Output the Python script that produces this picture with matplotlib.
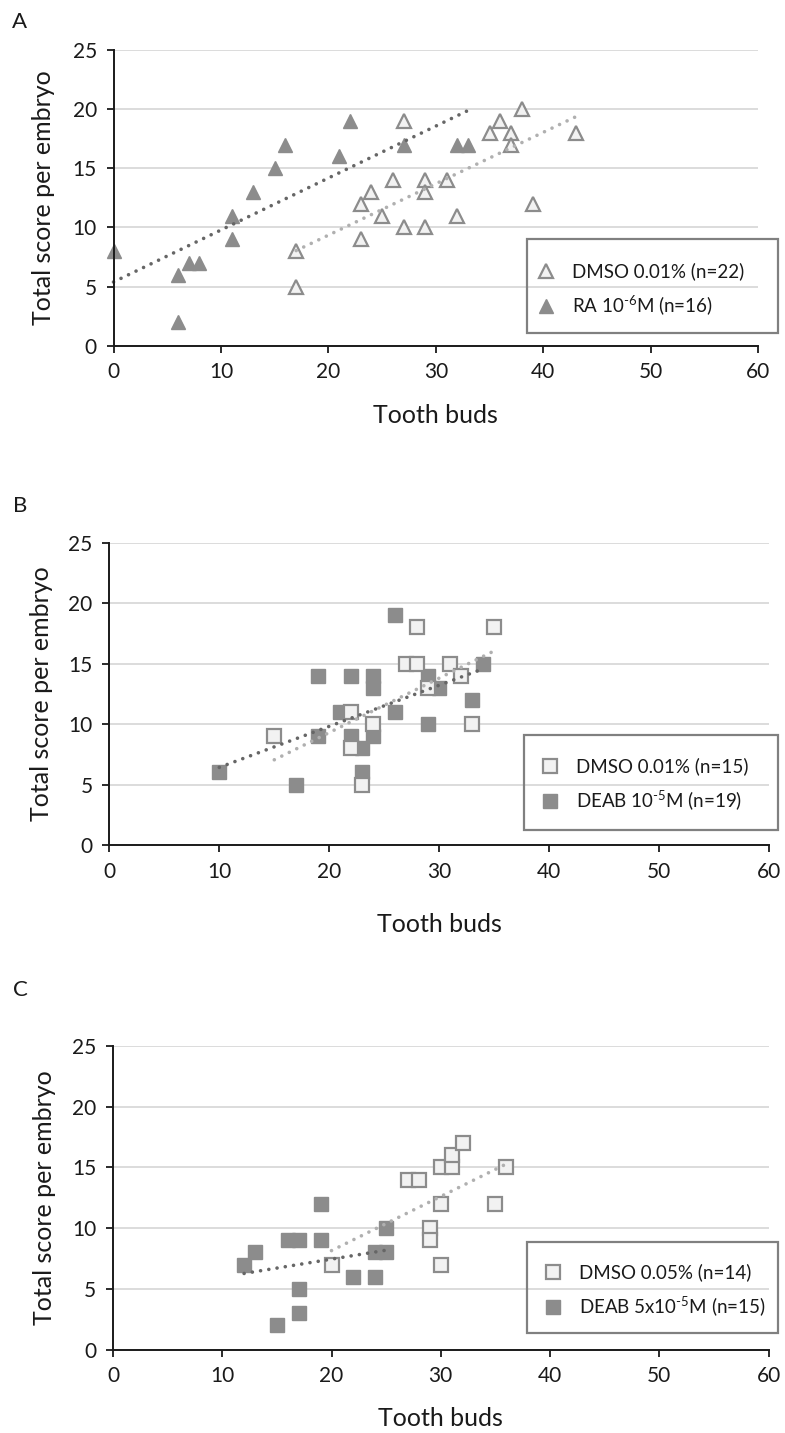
import numpy as np
import matplotlib
matplotlib.use("Agg")
import matplotlib.pyplot as plt
from matplotlib.lines import Line2D
from matplotlib.patches import Rectangle

# ---- data (x = tooth buds, y = total score) ----
# Panel A
a_dmso_x = [17, 17, 23, 23, 24, 25, 26, 27, 27, 29, 29, 29, 31, 32, 35, 36, 37, 37, 38, 39, 43]
a_dmso_y = [8, 5, 12, 9, 13, 11, 14, 19, 10, 14, 13, 10, 14, 11, 18, 19, 18, 17, 20, 12, 18]
a_ra_x = [0, 6, 7, 8, 6, 11, 11, 13, 15, 16, 21, 22, 27, 32, 33]
a_ra_y = [8, 6, 7, 7, 2, 11, 9, 13, 15, 17, 16, 19, 17, 17, 17]

# Panel B
b_deab_x = [10, 17, 19, 19, 21, 22, 22, 23, 23, 24, 24, 24, 26, 26, 29, 29, 30, 33, 34]
b_deab_y = [6, 5, 14, 9, 11, 14, 9, 8, 6, 14, 13, 9, 19, 11, 14, 10, 13, 12, 15]
b_dmso_x = [15, 22, 22, 23, 24, 27, 28, 28, 29, 31, 32, 33, 35]
b_dmso_y = [9, 11, 8, 5, 10, 15, 15, 18, 13, 15, 14, 10, 18]

# Panel C
c_deab_x = [12, 13, 15, 16, 17, 17, 17, 19, 19, 22, 24, 24, 25, 25]
c_deab_y = [7, 8, 2, 9, 9, 5, 3, 12, 9, 6, 6, 8, 8, 10]
c_dmso_x = [20, 27, 28, 29, 29, 30, 30, 30, 31, 31, 32, 35, 36]
c_dmso_y = [7, 14, 14, 10, 9, 15, 12, 7, 15, 16, 17, 12, 15]

labels_a = ["DMSO 0.01% (n=22)", r"RA 10$^{\text{-6}}$M (n=16)"]
labels_b = ["DMSO 0.01% (n=15)", r"DEAB 10$^{\text{-5}}$M (n=19)"]
labels_c = ["DMSO 0.05% (n=14)", r"DEAB 5x10$^{\text{-5}}$M (n=15)"]

W, H = 785, 1433
FILL = "#8c8c8c"
OPEN_FACE = "#f2f2f2"
DARK_LINE = "#666666"
LIGHT_LINE = "#b0b0b0"
TXT = "#1a1a1a"

plt.rcParams["font.family"] = ["Lato", "DejaVu Sans"]
plt.rcParams["mathtext.fontset"] = "custom"
plt.rcParams["mathtext.rm"] = "Lato"
plt.rcParams["mathtext.it"] = "Lato"
plt.rcParams["mathtext.bf"] = "Lato"


def px_axes(fig, left, top, right, bottom):
    return fig.add_axes([left / W, 1 - bottom / H, (right - left) / W, (bottom - top) / H])


def trend(ax, x, y, color):
    k, b = np.polyfit(x, y, 1)
    xs = np.array([min(x), max(x)])
    ax.plot(xs, k * xs + b, color=color, lw=2.6, linestyle=(0, (0.01, 2.3)),
            dash_capstyle="round", zorder=5, clip_on=False)


def style_axes(fig, ax, box, ylab_x, xlab_y):
    l, t, r, b = box
    ax.set_xlim(0, 60)
    ax.set_ylim(0, 25)
    ax.set_xticks(range(0, 61, 10))
    ax.set_yticks(range(0, 26, 5))
    for s in ("top", "right"):
        ax.spines[s].set_visible(False)
    for s in ("left", "bottom"):
        ax.spines[s].set_color(TXT)
        ax.spines[s].set_linewidth(1.4)
        ax.spines[s].set_zorder(6)
    ax.yaxis.grid(True, color="#d9d9d9", lw=1.3)
    ax.set_axisbelow(True)
    ax.tick_params(direction="out", length=5, width=1.3, colors=TXT,
                   labelsize=15, pad=7)
    ax.set_xlabel("Tooth buds", fontsize=18, color=TXT, va="center")
    ax.set_ylabel("Total score per embryo", fontsize=18, color=TXT, va="center")
    ax.xaxis.set_label_coords(0.5, -(xlab_y - b) / (b - t))
    ax.yaxis.set_label_coords(-(l - ylab_x) / (r - l), 0.5)


def legend_box(fig, ax, handles, labels, box, yc, x_handle):
    l, t, r, b = box
    fig.patches.append(Rectangle((l / W, 1 - b / H), (r - l) / W, (b - t) / H,
                                 transform=fig.transFigure, fill=False,
                                 edgecolor="#808080", lw=1.6, zorder=10))
    ax.legend(handles, labels, loc="center left",
              bbox_to_anchor=(x_handle / W, 1 - yc / H), bbox_transform=fig.transFigure,
              frameon=False, borderpad=0, borderaxespad=0, handlelength=1.1,
              handletextpad=0.8, labelspacing=0.7, fontsize=13.5, numpoints=1,
              labelcolor=TXT)


def handles(marker):
    return [Line2D([], [], ls="none", marker=marker, ms=10, mfc=OPEN_FACE, mec=FILL, mew=1.6),
            Line2D([], [], ls="none", marker=marker, ms=10, mfc=FILL, mec=FILL)]


fig = plt.figure(figsize=(W / 100, H / 100), dpi=100)

# ---- Panel A ----
box = (113.5, 50, 758.3, 345.7)
ax = px_axes(fig, *box)
style_axes(fig, ax, box, 44, 415)
ax.plot(a_ra_x, a_ra_y, "^", ms=10, color=FILL, mec=FILL, zorder=3, clip_on=False)
ax.plot(a_dmso_x, a_dmso_y, "^", ms=10, mfc=OPEN_FACE, mec=FILL, mew=1.6, zorder=4, clip_on=False)
trend(ax, a_ra_x, a_ra_y, DARK_LINE)
trend(ax, a_dmso_x, a_dmso_y, LIGHT_LINE)
legend_box(fig, ax, handles("^"), labels_a, (526.7, 239.3, 778.3, 333.3), 290, 536)
fig.text(20 / W, 1 - 22 / H, "A", fontsize=16, color=TXT, ha="center", va="center")

# ---- Panel B ----
box = (109.3, 542.7, 769.3, 845)
ax = px_axes(fig, *box)
style_axes(fig, ax, box, 42, 925)
ax.plot(b_deab_x, b_deab_y, "s", ms=10, color=FILL, mec=FILL, zorder=3, clip_on=False)
ax.plot(b_dmso_x, b_dmso_y, "s", ms=10, mfc=OPEN_FACE, mec=FILL, mew=1.6, zorder=4, clip_on=False)
trend(ax, b_dmso_x, b_dmso_y, LIGHT_LINE)
trend(ax, b_deab_x, b_deab_y, DARK_LINE)
legend_box(fig, ax, handles("s"), labels_b, (524, 735, 778, 830), 785, 540)
fig.text(20 / W, 1 - 506 / H, "B", fontsize=16, color=TXT, ha="center", va="center")

# ---- Panel C ----
box = (113, 1046, 768.5, 1349.5)
ax = px_axes(fig, *box)
style_axes(fig, ax, box, 45, 1418)
ax.plot(c_deab_x, c_deab_y, "s", ms=10, color=FILL, mec=FILL, zorder=3, clip_on=False)
ax.plot(c_dmso_x, c_dmso_y, "s", ms=10, mfc=OPEN_FACE, mec=FILL, mew=1.6, zorder=4, clip_on=False)
trend(ax, c_deab_x, c_deab_y, DARK_LINE)
trend(ax, c_dmso_x, c_dmso_y, LIGHT_LINE)
legend_box(fig, ax, handles("s"), labels_c, (526.7, 1241.7, 778.3, 1333), 1291, 543)
fig.text(20 / W, 1 - 990 / H, "C", fontsize=16, color=TXT, ha="center", va="center")

fig.savefig("out.png", dpi=100)
